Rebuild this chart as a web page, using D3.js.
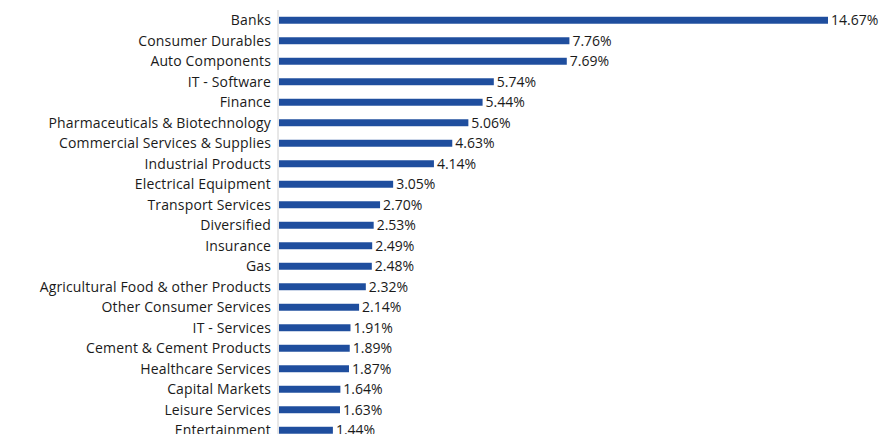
<!DOCTYPE html>
<html>
<head>
<meta charset="utf-8">
<script src="https://cdn.jsdelivr.net/npm/d3@7"></script>
<style>
  body { margin: 0; background: #fff; overflow: hidden; }
  text { font-family: "Open Sans", "Noto Sans", sans-serif; fill: #1a1a1a; }
</style>
</head>
<body>
<div class="chart"></div>
<script>
var categories = ['Banks', 'Consumer Durables', 'Auto Components', 'IT - Software', 'Finance',
  'Pharmaceuticals & Biotechnology', 'Commercial Services & Supplies', 'Industrial Products',
  'Electrical Equipment', 'Transport Services', 'Diversified', 'Insurance', 'Gas',
  'Agricultural Food & other Products', 'Other Consumer Services', 'IT - Services',
  'Cement & Cement Products', 'Healthcare Services', 'Capital Markets', 'Leisure Services',
  'Entertainment'];
var values = [14.67, 7.76, 7.69, 5.74, 5.44, 5.06, 4.63, 4.14, 3.05, 2.70, 2.53, 2.49, 2.48,
  2.32, 2.14, 1.91, 1.89, 1.87, 1.64, 1.63, 1.44];

var data = categories.map((c, i) => ({cat: c, val: values[i]}));

var W = 881, H = 434;
var left = 278;

var svg = d3.select('.chart')
  .append('svg')
    .attr('width', W)
    .attr('height', H);

var xScale = d3.scaleLinear()
  .domain([0, 14.67])
  .range([left + 1, 828]);

var yScale = d3.scaleBand()
  .domain(categories)
  .range([10, 10 + categories.length * 20.5])
  .paddingInner(0.66)
  .paddingOuter(0.33);

svg.append('line')
  .attr('x1', left).attr('x2', left)
  .attr('y1', 10).attr('y2', H)
  .attr('stroke', '#d0d0d0')
  .attr('stroke-width', 1);

svg.selectAll('rect.bar')
  .data(data)
  .enter()
  .append('rect')
    .attr('class', 'bar')
    .attr('x', xScale(0))
    .attr('y', d => yScale(d.cat))
    .attr('width', d => xScale(d.val) - xScale(0))
    .attr('height', yScale.bandwidth())
    .attr('fill', '#1f4e9e');

svg.selectAll('text.cat')
  .data(data)
  .enter()
  .append('text')
    .attr('class', 'cat')
    .attr('x', left - 7)
    .attr('y', d => yScale(d.cat) + yScale.bandwidth() / 2)
    .attr('dy', '0.35em')
    .attr('text-anchor', 'end')
    .style('font-size', '14px')
    .style('letter-spacing', '0.15px')
    .text(d => d.cat);

svg.selectAll('text.val')
  .data(data)
  .enter()
  .append('text')
    .attr('class', 'val')
    .attr('x', d => xScale(d.val) + 3)
    .attr('y', d => yScale(d.cat) + yScale.bandwidth() / 2)
    .attr('dy', '0.35em')
    .style('font-size', '14px')
    .text(d => d.val.toFixed(2) + '%');
</script>
</body>
</html>
